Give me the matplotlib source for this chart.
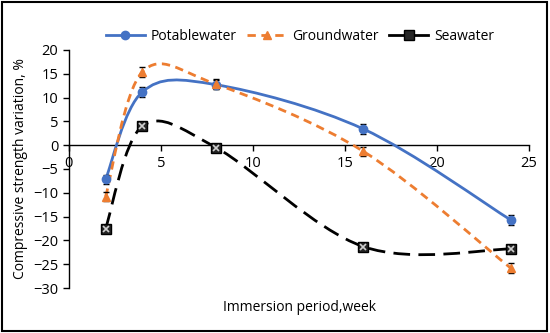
import numpy as np
import matplotlib.pyplot as plt
from matplotlib.path import Path
from matplotlib.patches import PathPatch, Rectangle
from matplotlib.lines import Line2D

plt.rcParams['font.family'] = ['Open Sans', 'DejaVu Sans']

weeks = [2, 4, 8, 16, 24]
potable = [-7.2, 11.2, 12.7, 3.4, -15.7]
ground = [-10.8, 15.4, 12.8, -1.3, -25.8]
sea = [-17.5, 4.0, -0.5, -21.3, -21.8]
potable_err = [1.0, 1.0, 1.0, 1.0, 1.0]
ground_err = [1.0, 1.0, 1.0, 0.9, 1.0]
sea_err = [0.5, 0.5, 0.5, 0.5, 0.5]
xticks = [0, 5, 10, 15, 20, 25]
yticks = [-30, -25, -20, -15, -10, -5, 0, 5, 10, 15, 20]


def smooth_path(x, y):
    # excel-like smoothed line: cubic bezier segments (catmull-rom)
    p = np.column_stack([x, y]).astype(float)
    n = len(p)
    verts = [p[0]]
    codes = [Path.MOVETO]
    for i in range(n - 1):
        p0 = p[max(i - 1, 0)]
        p1 = p[i]
        p2 = p[i + 1]
        p3 = p[min(i + 2, n - 1)]
        c1 = p1 + (p2 - p0) / 6
        c2 = p2 - (p3 - p1) / 6
        verts += [c1, c2, p2]
        codes += [Path.CURVE4] * 3
    return Path(verts, codes)


fig = plt.figure(figsize=(5.5, 3.33), dpi=100)
ax = fig.add_axes([0.125, 0.135, 0.837, 0.715])

blue = '#4472C4'
orange = '#ED7D31'

ax.add_patch(PathPatch(smooth_path(weeks, potable), fill=False, ec=blue, lw=2, zorder=3))
ax.add_patch(PathPatch(smooth_path(weeks, ground), fill=False, ec=orange, lw=2,
                       ls=(0, (3, 2)), zorder=3))
ax.add_patch(PathPatch(smooth_path(weeks, sea), fill=False, ec='black', lw=2,
                       ls=(0, (6, 3)), zorder=3))

ax.errorbar(weeks, potable, yerr=potable_err, fmt='o', color=blue, ms=6,
            ecolor='black', elinewidth=0.8, capsize=2, zorder=4)
ax.errorbar(weeks, ground, yerr=ground_err, fmt='^', color=orange, ms=6,
            ecolor='black', elinewidth=0.8, capsize=2, zorder=4)
ax.errorbar(weeks, sea, yerr=sea_err, fmt='s', mfc='#262626', mec='black', ms=6.5,
            ecolor='black', elinewidth=0.8, capsize=2, zorder=4)
ax.plot(weeks, sea, 'x', color='#cfcfcf', ms=4.5, mew=1.2, zorder=5)

ax.set_xlim(0, 25)
ax.set_ylim(-30, 20)
ax.set_xticks(xticks)
ax.set_yticks(yticks)
ax.spines['top'].set_visible(False)
ax.spines['right'].set_visible(False)
ax.spines['bottom'].set_position(('data', 0))
ax.tick_params(labelsize=10.5, length=4, width=1)
for s in ['left', 'bottom']:
    ax.spines[s].set_linewidth(1)

ax.set_ylabel('Compressive strength variation, %', fontsize=10)
fig.text(0.545, 0.065, 'Immersion period,week', ha='center', fontsize=10)

h1 = Line2D([], [], color=blue, lw=2, marker='o', ms=6)
h2 = Line2D([], [], color=orange, lw=2, ls=(0, (3, 2)), marker='^', ms=6)
h3 = Line2D([], [], color='black', lw=2, marker='s', mfc='#262626', ms=6.5)
fig.legend([h1, h2, h3], ['Potablewater', 'Groundwater', 'Seawater'],
           loc='center', bbox_to_anchor=(0.545, 0.89), ncol=3, frameon=False,
           fontsize=10, handlelength=2.8, columnspacing=0.8, handletextpad=0.4)

fig.add_artist(Rectangle((0.004, 0.006), 0.99, 0.988, transform=fig.transFigure,
                         fill=False, ec='black', lw=1.5))

plt.savefig('out.png')
